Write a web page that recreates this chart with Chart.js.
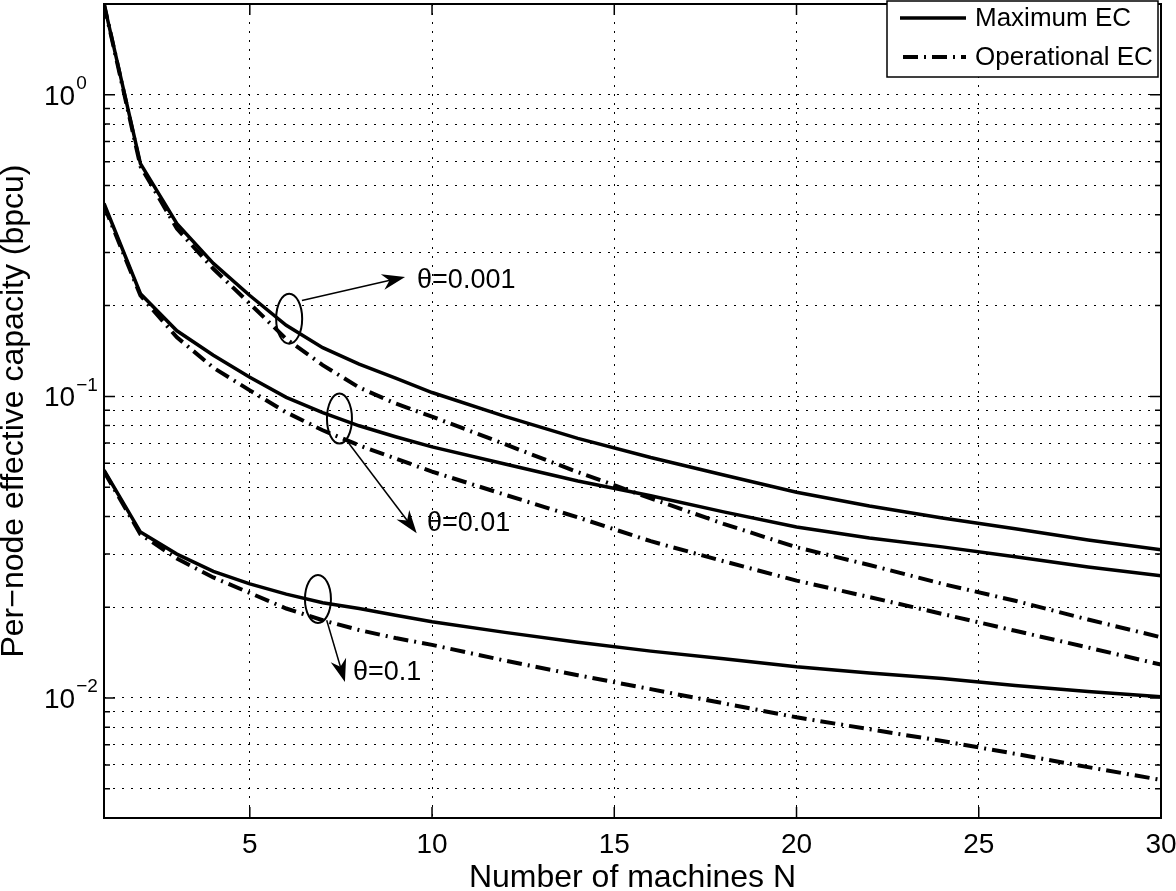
<!DOCTYPE html>
<html>
<head>
<meta charset="utf-8">
<script src="https://cdn.jsdelivr.net/npm/chart.js@4.4.1/dist/chart.umd.min.js"></script>
<style>
html, body { margin: 0; padding: 0; background: #fff; }
</style>
</head>
<body>
<canvas id="ecChart" width="1176" height="891"></canvas>
<script>
// number of machines N (x axis)
const machines = [1, 2, 3, 4, 5, 6, 7, 8, 9, 10, 12, 14, 16, 18, 20, 22, 24, 26, 28, 30];

// per-node effective capacity (bpcu)
const maxEC_0001 = [2.0, 0.591, 0.374, 0.276, 0.216, 0.172, 0.145, 0.128, 0.115, 0.103, 0.0858, 0.0726, 0.0627, 0.0549, 0.0481, 0.0433, 0.0395, 0.0364, 0.0334, 0.0310];
const opEC_0001  = [2.0, 0.58, 0.360, 0.265, 0.203, 0.155, 0.127, 0.107, 0.0947, 0.0857, 0.0694, 0.0561, 0.0459, 0.0378, 0.0316, 0.0276, 0.0239, 0.0210, 0.0182, 0.0159];
const maxEC_001  = [0.436, 0.219, 0.165, 0.137, 0.1157, 0.0993, 0.0884, 0.0799, 0.0735, 0.0680, 0.0597, 0.0524, 0.0468, 0.0414, 0.0369, 0.0339, 0.0317, 0.0294, 0.0272, 0.0254];
const opEC_001   = [0.429, 0.216, 0.157, 0.1245, 0.1047, 0.0885, 0.0772, 0.0688, 0.0622, 0.0563, 0.0472, 0.0397, 0.0331, 0.0284, 0.0245, 0.0216, 0.0190, 0.0167, 0.0147, 0.0129];
const maxEC_01   = [0.0569, 0.0355, 0.0300, 0.0263, 0.0239, 0.0221, 0.0207, 0.0198, 0.0188, 0.0179, 0.0165, 0.0153, 0.0143, 0.0135, 0.0127, 0.0121, 0.0116, 0.0110, 0.0105, 0.0101];
const opEC_01    = [0.0564, 0.0349, 0.0290, 0.0251, 0.0223, 0.0198, 0.0181, 0.0168, 0.0158, 0.0150, 0.0133, 0.0119, 0.0107, 0.0096, 0.00863, 0.00788, 0.00720, 0.00653, 0.00590, 0.00535];

const seriesNames = ['Maximum EC', 'Operational EC'];

// axis ticks
const xTicks = [5, 10, 15, 20, 25, 30];
const yMajor = [0.01, 0.1, 1];
const yGrid = [0.005, 0.006, 0.007, 0.008, 0.009,
               0.01, 0.02, 0.03, 0.04, 0.05, 0.06, 0.07, 0.08, 0.09,
               0.1, 0.2, 0.3, 0.4, 0.5, 0.6, 0.7, 0.8, 0.9,
               1, 2];

// theta annotations (data coordinates)
const thetaNotes = [
    { text: 'θ=0.001', ring: [6.08, 0.181], rx: 13, ry: 25, from: [6.43, 0.208], to: [9.26, 0.249], label: [9.59, 0.242] },
    { text: 'θ=0.01',  ring: [7.46, 0.0844], rx: 12.5, ry: 25, from: [7.69, 0.0706], to: [9.58, 0.0352], label: [9.86, 0.0379] },
    { text: 'θ=0.1',   ring: [6.87, 0.0213], rx: 13, ry: 24, from: [7.11, 0.0181], to: [7.61, 0.0113], label: [7.83, 0.0121] }
];

const FONT = '"Liberation Sans", Arial, Helvetica, sans-serif';
const DASHDOT = [15, 6, 2, 6];

Chart.defaults.font.family = FONT;
Chart.defaults.color = '#000';

function pts(arr) {
    return machines.map((n, i) => ({ x: n, y: arr[i] }));
}

function line(arr, dashed) {
    return {
        label: dashed ? seriesNames[1] : seriesNames[0],
        data: pts(arr),
        borderColor: '#000',
        borderWidth: dashed ? 4 : 3.5,
        borderDash: dashed ? DASHDOT : [],
        pointRadius: 0,
        fill: false,
        tension: 0
    };
}

function arrow(ctx, x1, y1, x2, y2) {
    const ang = Math.atan2(y2 - y1, x2 - x1);
    const len = 23, half = 8;
    const c = Math.cos(ang), s = Math.sin(ang);
    ctx.beginPath();
    ctx.moveTo(x1, y1);
    ctx.lineTo(x2 - c * 12, y2 - s * 12);
    ctx.lineWidth = 1.5;
    ctx.stroke();
    const bx = x2 - c * len, by = y2 - s * len;
    ctx.beginPath();
    ctx.moveTo(x2, y2);
    ctx.lineTo(bx - s * half, by + c * half);
    ctx.lineTo(x2 - c * 16, y2 - s * 16);
    ctx.lineTo(bx + s * half, by - c * half);
    ctx.closePath();
    ctx.fill();
}

const matlabFrame = {
    id: 'matlabFrame',
    afterDatasetsDraw(chart) {
        const ctx = chart.ctx;
        const a = chart.chartArea;
        const xs = chart.scales.x, ys = chart.scales.y;
        ctx.save();
        ctx.strokeStyle = '#000';
        ctx.fillStyle = '#000';
        ctx.setLineDash([]);

        // axes box
        ctx.lineWidth = 2;
        ctx.strokeRect(a.left, a.top, a.right - a.left, a.bottom - a.top);

        // inward tick marks
        ctx.lineWidth = 1.5;
        ctx.beginPath();
        xTicks.forEach(v => {
            const px = xs.getPixelForValue(v);
            ctx.moveTo(px, a.bottom); ctx.lineTo(px, a.bottom - 11);
            ctx.moveTo(px, a.top); ctx.lineTo(px, a.top + 11);
        });
        yGrid.forEach(v => {
            const py = ys.getPixelForValue(v);
            const l = yMajor.includes(v) ? 11 : 6;
            ctx.moveTo(a.left, py); ctx.lineTo(a.left + l, py);
            ctx.moveTo(a.right, py); ctx.lineTo(a.right - l, py);
        });
        ctx.stroke();

        // y tick labels as powers of ten
        ctx.textBaseline = 'middle';
        ctx.textAlign = 'left';
        yMajor.forEach(v => {
            const py = ys.getPixelForValue(v);
            const p = Math.round(Math.log10(v));
            ctx.font = '28px ' + FONT;
            ctx.fillText('10', 44, py + 2);
            const w = ctx.measureText('10').width;
            ctx.font = '19px ' + FONT;
            ctx.fillText(p === 0 ? '0' : '\u2212' + Math.abs(p), 44 + w + 1, py - 11);
        });

        // theta annotations
        thetaNotes.forEach(n => {
            const cx = xs.getPixelForValue(n.ring[0]), cy = ys.getPixelForValue(n.ring[1]);
            ctx.lineWidth = 2;
            ctx.beginPath();
            ctx.ellipse(cx, cy, n.rx, n.ry, 0, 0, Math.PI * 2);
            ctx.stroke();
            arrow(ctx, xs.getPixelForValue(n.from[0]), ys.getPixelForValue(n.from[1]),
                       xs.getPixelForValue(n.to[0]), ys.getPixelForValue(n.to[1]));
            ctx.font = '27px ' + FONT;
            ctx.textBaseline = 'middle';
            ctx.fillText(n.text, xs.getPixelForValue(n.label[0]), ys.getPixelForValue(n.label[1]));
        });

        // legend box
        const lx = 887, ly = 1, lw = 271, lh = 76;
        ctx.fillStyle = '#fff';
        ctx.fillRect(lx, ly, lw, lh);
        ctx.lineWidth = 1.5;
        ctx.strokeStyle = '#000';
        ctx.strokeRect(lx, ly, lw, lh);
        ctx.fillStyle = '#000';
        ctx.font = '26px ' + FONT;
        seriesNames.forEach((name, i) => {
            const ry = 18 + i * 39;
            ctx.lineWidth = i ? 4 : 3.5;
            ctx.setLineDash(i ? DASHDOT : []);
            ctx.lineDashOffset = i ? -3 : 0;
            ctx.beginPath();
            ctx.moveTo(900, ry); ctx.lineTo(966, ry);
            ctx.stroke();
            ctx.setLineDash([]);
            ctx.fillText(name, 975, ry + 1);
        });
        ctx.restore();
    }
};

new Chart(document.getElementById('ecChart'), {
    type: 'line',
    data: {
        datasets: [
            line(maxEC_0001, false), line(opEC_0001, true),
            line(maxEC_001, false), line(opEC_001, true),
            line(maxEC_01, false), line(opEC_01, true)
        ]
    },
    options: {
        responsive: false,
        animation: false,
        devicePixelRatio: 1,
        layout: { padding: { top: 4, right: 15, left: 0, bottom: 0 } },
        plugins: { legend: { display: false }, tooltip: { enabled: false } },
        scales: {
            x: {
                type: 'linear',
                min: 1,
                max: 30,
                afterBuildTicks: s => { s.ticks = xTicks.map(v => ({ value: v })); },
                afterFit: s => { s.height = 73; s.paddingLeft = 0; s.paddingRight = 0; },
                grid: { color: '#000', lineWidth: 1, drawTicks: false },
                border: { display: false, dash: [2, 7] },
                ticks: { font: { size: 28 }, color: '#000', padding: 10, maxRotation: 0 },
                title: { display: true, text: 'Number of machines N', font: { size: 32, lineHeight: 1 }, padding: { top: 0, bottom: -3 } }
            },
            y: {
                type: 'logarithmic',
                min: 0.004,
                max: 2,
                afterBuildTicks: s => { s.ticks = yGrid.map(v => ({ value: v })); },
                afterFit: s => { s.width = 104; s.paddingTop = 0; s.paddingBottom = 0; },
                grid: { color: '#000', lineWidth: 1, drawTicks: false },
                border: { display: false, dash: [2, 7] },
                ticks: { display: false },
                title: { display: true, text: 'Per\u2212node effective capacity (bpcu)', font: { size: 32, lineHeight: 1 }, padding: { top: -2, bottom: 0 } }
            }
        }
    },
    plugins: [matlabFrame]
});
</script>
</body>
</html>
